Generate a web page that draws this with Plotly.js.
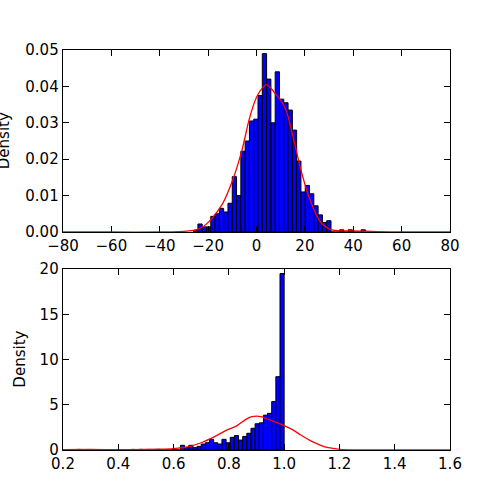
<!DOCTYPE html>
<html>
<head>
<meta charset="utf-8">
<script src="https://cdn.plot.ly/plotly-3.0.1.min.js"></script>
<style>html,body{margin:0;padding:0;background:#fff;}#chart{width:500px;height:500px;}</style>
</head>
<body>
<div id="chart"></div>
<script>
// ---- Top histogram (40 equal bins between topMin and topMax) ----
const topMin = -26;
const topMax = 45;
const topDensity = [
  0.0005, 0.0022, 0.0014, 0.0014, 0.0043, 0.0050, 0.0065, 0.0055, 0.0079, 0.0152,
  0.0100, 0.0222, 0.0250, 0.0305, 0.0310, 0.0375, 0.0490, 0.0420, 0.0300, 0.0440,
  0.0365, 0.0355, 0.0335, 0.0280, 0.0195, 0.0110, 0.0128, 0.0105, 0.0072, 0.0047,
  0.0026, 0.0031, 0, 0, 0.0006, 0, 0.0006, 0, 0, 0.0006
];
const topKdeX = [-80, -60, -40, -32, -28, -25, -22, -18, -14, -10, -6, -3, 0, 3, 4.2, 6, 8, 10.5, 12.5, 15, 18, 21, 23.5, 26, 28, 31, 35, 40, 45, 50, 60, 80];
const topKdeY = [0, 0, 0, 0.0001, 0.0003, 0.0006, 0.0015, 0.0041, 0.0078, 0.0140, 0.0225, 0.0310, 0.0370, 0.0400, 0.0405, 0.0395, 0.0378, 0.0357, 0.0330, 0.0265, 0.0180, 0.0110, 0.0065, 0.0032, 0.0017, 0.0006, 0.0003, 0.0003, 0.0002, 0.0001, 0, 0];

// ---- Bottom histogram (50 equal bins between botMin and botMax) ----
const botMin = 0.25;
const botMax = 1.0;
const botDensity = [
  0.067, 0, 0, 0, 0, 0, 0, 0, 0, 0,
  0, 0, 0, 0.067, 0, 0.067, 0, 0.067, 0.067, 0.067,
  0, 0, 0, 0.067, 0, 0.52, 0.26, 0.52, 0.26, 0.40,
  0.66, 0.80, 1.18, 0.80, 0.66, 1.18, 0.80, 1.40, 1.60, 1.10,
  1.50, 1.85, 2.40, 2.90, 3.00, 3.85, 4.05, 5.35, 8.10, 19.50
];
const botKdeX = [0.2, 0.3, 0.4, 0.5, 0.55, 0.6, 0.65, 0.7, 0.75, 0.78, 0.8, 0.83, 0.86, 0.88, 0.9, 0.92, 0.95, 0.98, 1.0, 1.03, 1.06, 1.1, 1.13, 1.16, 1.2, 1.25, 1.3, 1.4, 1.6];
const botKdeY = [0.05, 0.06, 0.04, 0.06, 0.09, 0.16, 0.35, 0.80, 1.50, 2.00, 2.30, 2.70, 3.35, 3.65, 3.75, 3.65, 3.30, 2.95, 2.70, 2.25, 1.65, 0.95, 0.55, 0.25, 0.08, 0.02, 0, 0, 0];

const topTicksX = [-80, -60, -40, -20, 0, 20, 40, 60, 80];
const topTicksY = [0, 0.01, 0.02, 0.03, 0.04, 0.05];
const botTicksX = [0.2, 0.4, 0.6, 0.8, 1.0, 1.2, 1.4, 1.6];
const botTicksY = [0, 5, 10, 15, 20];
const yLabel = 'Density';

function centers(lo, hi, n) {
  const w = (hi - lo) / n;
  const c = [];
  for (let i = 0; i < n; i++) c.push(lo + (i + 0.5) * w);
  return {c: c, w: w};
}
const tb = centers(topMin, topMax, topDensity.length);
const bb = centers(botMin, botMax, botDensity.length);

const barStyle = {color: '#0000ff', line: {color: '#000000', width: 1}};
const traces = [
  {type: 'bar', x: tb.c, y: topDensity, width: tb.w, marker: barStyle, xaxis: 'x', yaxis: 'y', hoverinfo: 'skip'},
  {type: 'scatter', mode: 'lines', x: topKdeX, y: topKdeY, line: {color: '#ff0000', width: 1.3, shape: 'spline', smoothing: 0.7}, xaxis: 'x', yaxis: 'y', hoverinfo: 'skip'},
  {type: 'bar', x: bb.c, y: botDensity, width: bb.w, marker: barStyle, xaxis: 'x2', yaxis: 'y2', hoverinfo: 'skip'},
  {type: 'scatter', mode: 'lines', x: botKdeX, y: botKdeY, line: {color: '#ff0000', width: 1.3, shape: 'spline', smoothing: 0.7}, xaxis: 'x2', yaxis: 'y2', hoverinfo: 'skip'}
];

const font = {family: 'DejaVu Sans', size: 15, color: '#000'};
function ax(extra) {
  return Object.assign({
    showline: true, linecolor: '#000', linewidth: 1.3, mirror: 'allticks',
    ticks: 'inside', ticklen: 6, tickwidth: 1.1, tickcolor: '#000',
    showgrid: false, zeroline: false, tickfont: font, fixedrange: true
  }, extra);
}

const layout = {
  width: 500, height: 500,
  margin: {l: 63, r: 50, t: 50, b: 50},
  paper_bgcolor: '#fff', plot_bgcolor: '#fff',
  showlegend: false, bargap: 0, barmode: 'overlay',
  font: font,
  xaxis: ax({domain: [0, 1], range: [-80, 80], tickvals: topTicksX, anchor: 'y'}),
  yaxis: ax({domain: [0.545, 1], range: [0, 0.05], tickvals: topTicksY, tickformat: '.2f', anchor: 'x'}),
  xaxis2: ax({domain: [0, 1], range: [0.2, 1.6], tickvals: botTicksX, tickformat: '.1f', anchor: 'y2'}),
  yaxis2: ax({domain: [0, 0.4525], range: [0, 20], tickvals: botTicksY, anchor: 'x2'}),
  annotations: [
    {text: yLabel, xref: 'paper', yref: 'paper', x: -0.152, y: 0.7725, xanchor: 'center', yanchor: 'middle', textangle: -90, showarrow: false, font: font},
    {text: yLabel, xref: 'paper', yref: 'paper', x: -0.111, y: 0.226, xanchor: 'center', yanchor: 'middle', textangle: -90, showarrow: false, font: font}
  ]
};

Plotly.newPlot('chart', traces, layout, {staticPlot: true, displayModeBar: false});
</script>
</body>
</html>
